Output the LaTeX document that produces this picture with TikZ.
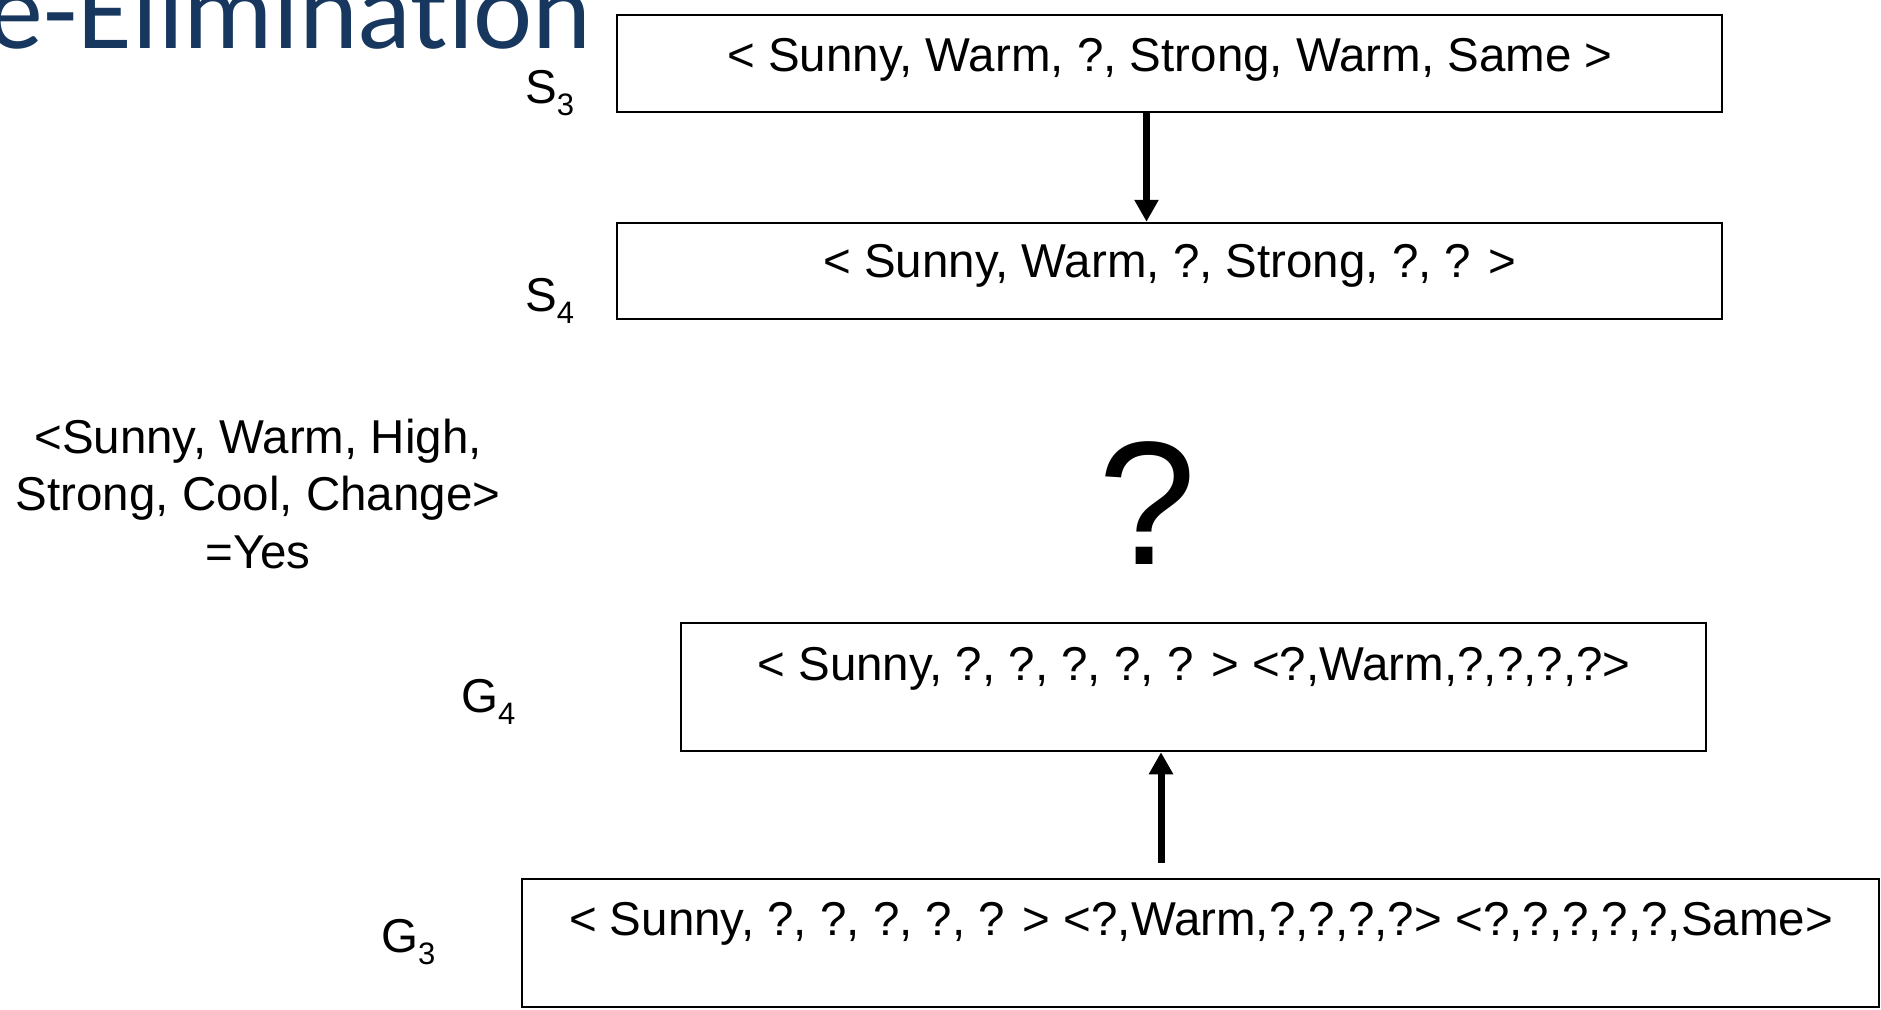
\documentclass[tikz,border=0pt]{standalone}
\usepackage{fontspec}
\setmainfont{Liberation Sans}
\newfontfamily\titlefont[Ligatures={NoCommon,NoRequired,NoContextual}]{Carlito}
\usetikzlibrary{arrows.meta}
\definecolor{titleblue}{RGB}{23,55,94}
\newcommand{\bodysize}{\fontsize{47.5pt}{57.5pt}\selectfont}
\newcommand{\subsize}{\fontsize{31pt}{31pt}\selectfont}
\newcommand{\lbl}[2]{#1\raisebox{-12pt}{\subsize #2}}
\begin{document}
\begin{tikzpicture}[x=1pt,y=-1pt,
  box/.style={draw, line width=2.5pt, inner sep=0pt},
  boxtext/.style={anchor=base, inner sep=0pt, font=\bodysize},
  setlabel/.style={anchor=base west, inner sep=0pt, font=\bodysize},
  titletext/.style={anchor=base east, inner sep=0pt, text=titleblue, font=\titlefont\fontsize{112pt}{120pt}\selectfont},
  arr/.style={line width=7pt, -{Triangle[length=22pt,width=23pt]}}]
\useasboundingbox (0,0) rectangle (1881,1009);
\clip (0,0) rectangle (1881,1009);
\node[titletext] (title) at (592,48) {e-Elimination};
% boxes
\node[box, minimum width=1105pt, minimum height=97pt] (s3) at (1169.5,63.5) {};
\node[boxtext] (s3t) at (1170,71) {< Sunny, Warm, ?, Strong, Warm, Same >};
\node[box, minimum width=1105pt, minimum height=96pt] (s4) at (1169.5,271) {};
\node[boxtext] (s4t) at (1170,277) {< Sunny, Warm, ?, Strong, ?, ? >};
\node[box, minimum width=1025pt, minimum height=128pt] (g4) at (1193.5,687) {};
\node[boxtext] (g4t) at (1194,680) {< Sunny, ?, ?, ?, ?, ? > <?,Warm,?,?,?,?>};
\node[box, minimum width=1357pt, minimum height=128pt] (g3) at (1200.5,943) {};
\node[boxtext] (g3t) at (1201,935) {< Sunny, ?, ?, ?, ?, ? > <?,Warm,?,?,?,?> <?,?,?,?,?,Same>};
% labels
\node[setlabel] (s3l) at (525,103) {\lbl{S}{3}};
\node[setlabel] (s4l) at (525,311) {\lbl{S}{4}};
\node[setlabel] (g4l) at (461,712) {\lbl{G}{4}};
\node[setlabel] (g3l) at (381,952) {\lbl{G}{3}};
% example
\node[anchor=base, inner sep=0pt, align=center, font=\bodysize] (ex) at (258,568)
  {<Sunny, Warm, High,\\ Strong, Cool, Change>\\ =Yes};
% question mark
\node[anchor=base, inner sep=0pt, font=\fontsize{176pt}{176pt}\selectfont] (q) at (1147,564) {?};
% arrows
\draw[arr] ([xshift=-23pt]s3.south) -- ([xshift=-23pt]s4.north);
\coordinate (g3top) at (1161,863);
\draw[arr] (g3top) -- (g3top |- g4.south);
\end{tikzpicture}
\end{document}
